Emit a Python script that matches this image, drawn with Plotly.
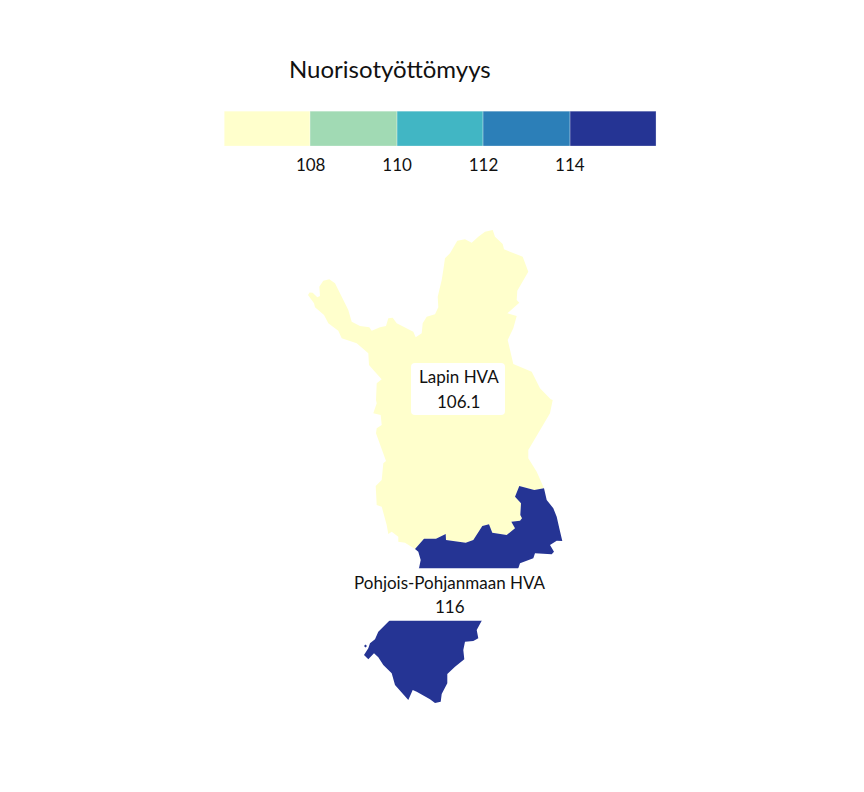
import plotly.graph_objects as go

W, H = 864, 792

# Legend
legend_breaks = [106, 108, 110, 112, 114, 116]
legend_ticks = [108, 110, 112, 114]
legend_colors = ["#ffffcc", "#a1dab4", "#41b6c4", "#2c7fb8", "#253494"]

# Regions
region_names = ["Lapin HVA", "Pohjois-Pohjanmaan HVA"]
region_values = ["106.1", "116"]

# Shared border of the two regions (east to west), map units
border_x = [544, 534.3, 519.3, 515, 521, 520.3, 522, 520, 511.3, 515, 506.7, 492.3, 489, 482.3,
            473.3, 465.7, 446, 445.7, 436, 424, 415]
border_y = [488.3, 490, 486, 496.7, 503.3, 515, 518.3, 520.7, 521.7, 528.3, 535, 532.7, 524.3, 526,
            540, 542.7, 540, 534, 538.7, 538.7, 549]

# Outer outline of Lappi, from the border's west end, clockwise
lapin_outer_x = [405, 398.3, 398.3, 391.7, 388.3, 386.7, 381.7, 376.7, 375.7, 381.7, 383.3, 386, 376,
                 376.7, 381.7, 380.7, 373.3, 376.7, 376, 376.7, 381.7, 374, 369, 368.3, 356.7, 341.7,
                 338.3, 328.3, 324, 315, 314, 308, 309.5, 312.7, 317.3, 320, 319.3, 323.3, 329.3, 335,
                 341.7, 348.3, 351.7, 360, 369.3, 371.7, 380, 386, 388.3, 392.7, 396.7, 408.3, 413.3,
                 415.7, 421.7, 422.7, 426.7, 435, 438.3, 437.7, 441.7, 443.3, 445, 450, 457.3, 465,
                 471.7, 478.3, 485, 492.7, 495, 502.7, 504, 522.7, 528.3, 517.3, 516.7, 519.3, 507.3,
                 516.7, 513.3, 507.7, 513.3, 531.7, 540, 550.7, 552.7, 550, 540, 528.3, 528.3, 536.7]
lapin_outer_y = [542.7, 541.7, 536.7, 531.7, 534, 525, 506.7, 505, 486, 480, 463.3, 461, 433.3,
                 428.3, 425, 415, 413.3, 403.3, 400, 383.3, 379.3, 370.7, 365, 353.3, 343.3, 338.3,
                 330.7, 323.3, 315, 307.3, 303.3, 295, 292.5, 292.7, 297.3, 296, 286.7, 280.7, 279.3, 283.3,
                 297.3, 310, 321.7, 326, 327.3, 330.7, 327.3, 326, 318.3, 317.7, 323.3, 328.7, 331.7,
                 337.3, 333.3, 323.3, 316.7, 314.3, 307.3, 296.7, 280, 270, 258.3, 253.3, 240.7, 239.3,
                 242.7, 236.7, 231.7, 230, 236.7, 244, 249.3, 256.7, 271.7, 290.7, 300, 302.7, 313.3,
                 316, 328.3, 340, 364, 371.7, 388.3, 399.3, 400, 413.3, 430, 450, 458.3, 471.7]

# Outer outline of Pohjois-Pohjanmaa, from the border's east end, clockwise
pohjois_outer_x = [546.7, 553.3, 556.7, 559.3, 562.3, 556.7, 550, 554, 551.7, 535, 533.3, 520, 518.3,
                   481.7, 476.7, 478.3, 473.3, 465, 463.3, 464.3, 455, 447.3, 447.3, 441.7, 440.7,
                   435, 430, 416.7, 412.7, 408.3, 405, 395, 391.7, 383.3, 378.3, 374, 368.3, 364,
                   368.3, 370, 375, 378.3, 389.3, 419, 420.7, 418.3]
pohjois_outer_y = [500, 508.3, 516.7, 528.3, 541, 540.7, 545, 551.7, 554.3, 553.3, 558.3, 563.3, 568.3,
                   620.7, 630, 638.3, 641, 641.7, 650, 659.3, 666.7, 674, 683.3, 694, 701.7,
                   703, 699.3, 691.7, 690, 700, 696, 685, 673.3, 665, 657.3, 653.3, 659.3, 655,
                   648.3, 643.3, 639.3, 631.7, 620.7, 568.3, 560, 551.7]

# Small offshore island of Pohjois-Pohjanmaa
island_x = [364, 365.5, 367, 365.5]
island_y = [646, 644.5, 646, 647.5]

lapin_x = border_x + lapin_outer_x
lapin_y = border_y + lapin_outer_y
pohjois_x = border_x[::-1] + pohjois_outer_x + border_x[-1:] + [None] + island_x + island_x[:1]
pohjois_y = border_y[::-1] + pohjois_outer_y + border_y[-1:] + [None] + island_y + island_y[:1]

fig = go.Figure()

fig.add_trace(go.Scatter(x=lapin_x + lapin_x[:1], y=lapin_y + lapin_y[:1], fill="toself",
                         fillcolor=legend_colors[0], mode="lines", line=dict(width=0),
                         name=region_names[0], showlegend=False, hoverinfo="text",
                         text=f"{region_names[0]} {region_values[0]}"))
fig.add_trace(go.Scatter(x=pohjois_x, y=pohjois_y, fill="toself",
                         fillcolor=legend_colors[4], mode="lines", line=dict(width=0),
                         name=region_names[1], showlegend=False, hoverinfo="text",
                         text=f"{region_names[1]} {region_values[1]}"))

# Colour legend as a stacked bar on its own axis
fig.add_trace(go.Bar(
    y=[0] * len(legend_colors),
    x=[b - a for a, b in zip(legend_breaks[:-1], legend_breaks[1:])],
    base=legend_breaks[:-1],
    orientation="h", width=1,
    marker=dict(color=legend_colors, line=dict(color="rgba(255,255,255,0.6)", width=0.5)),
    xaxis="x2", yaxis="y2", showlegend=False, hoverinfo="skip",
))


def rounded_box(x0, y0, x1, y1, r=4):
    return (f"M{x0 + r},{y0} L{x1 - r},{y0} Q{x1},{y0} {x1},{y0 + r} L{x1},{y1 - r} Q{x1},{y1} {x1 - r},{y1} "
            f"L{x0 + r},{y1} Q{x0},{y1} {x0},{y1 - r} L{x0},{y0 + r} Q{x0},{y0} {x0 + r},{y0} Z")


shapes = [
    dict(type="path", path=rounded_box(411, 363, 505, 415), fillcolor="white", line=dict(width=0),
         xref="x", yref="y", layer="above"),
    dict(type="path", path=rounded_box(346, 568.3, 554, 620.7, r=0.1), fillcolor="white", line=dict(width=0),
         xref="x", yref="y", layer="above"),
]

font = dict(family="Lato", color="#111111", weight=400)
label_pos = [(458.5, 376, 401), (450, 582, 606)]
annotations = []
for name, value, (cx, y1, y2) in zip(region_names, region_values, label_pos):
    for txt, yy in ((name, y1), (value, y2)):
        annotations.append(dict(x=cx, y=yy, xref="x", yref="y", text=txt, showarrow=False,
                                font=dict(size=17, **font), xanchor="center", yanchor="middle"))
annotations.append(dict(x=390, y=68, xref="x", yref="y", text="Nuorisotyöttömyys", showarrow=False,
                        font=dict(size=24, **font), xanchor="center", yanchor="middle"))

fig.update_layout(
    width=W, height=H, autosize=False,
    margin=dict(l=0, r=0, t=0, b=0),
    paper_bgcolor="white", plot_bgcolor="white",
    showlegend=False,
    bargap=0,
    xaxis=dict(range=[0, W], domain=[0, 1], visible=False, fixedrange=True),
    yaxis=dict(range=[H, 0], domain=[0, 1], visible=False, fixedrange=True),
    xaxis2=dict(range=[legend_breaks[0], legend_breaks[-1]], domain=[224.3 / W, 656.3 / W], anchor="y2",
                tickmode="array", tickvals=legend_ticks, ticktext=[str(t) for t in legend_ticks],
                ticks="", ticklabelstandoff=7, showgrid=False, zeroline=False, showline=False,
                tickfont=dict(size=17, **font), fixedrange=True),
    yaxis2=dict(range=[-0.5, 0.5], domain=[1 - 146 / H, 1 - 111.3 / H], anchor="x2", visible=False,
                fixedrange=True),
    shapes=shapes,
    annotations=annotations,
)

fig.write_html("out.html", config={"displayModeBar": False},
               post_script="document.body.style.margin='0';")
